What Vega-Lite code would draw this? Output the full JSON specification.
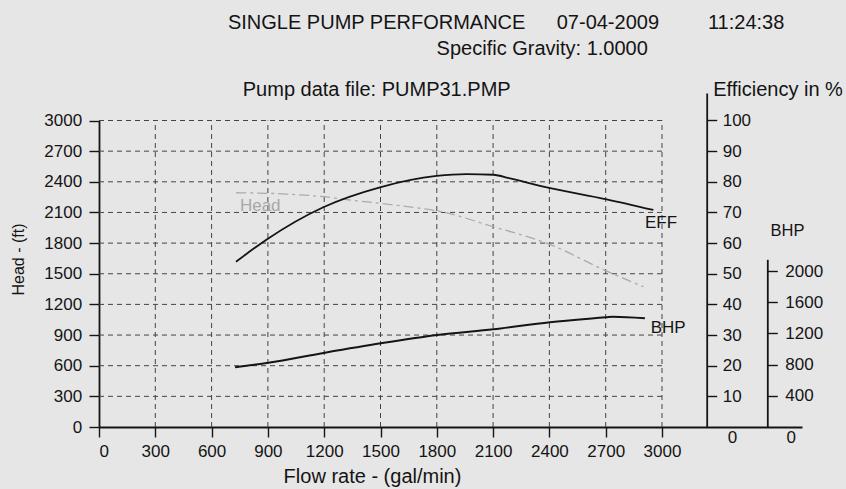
{
  "$schema": "https://vega.github.io/schema/vega-lite/v6.json",
  "width": 703,
  "height": 334,
  "autosize": "none",
  "padding": {"left": 99, "top": 93, "right": 44, "bottom": 62},
  "background": "#e6e6e6",
  "config": {
    "view": {"stroke": null},
    "font": "Liberation Sans",
    "axis": {
      "labelFont": "Liberation Sans",
      "titleFont": "Liberation Sans",
      "labelColor": "#141414",
      "titleColor": "#141414",
      "domainColor": "#141414",
      "tickColor": "#141414",
      "labelFontSize": 17,
      "titleFontSize": 20,
      "titleFontWeight": "normal",
      "domainWidth": 1.8,
      "tickWidth": 1.4,
      "tickSize": 10,
      "grid": false,
      "format": "d"
    }
  },
  "datasets": {
    "gridx": [
      {"flow": 300}, {"flow": 600}, {"flow": 900}, {"flow": 1200}, {"flow": 1500},
      {"flow": 1800}, {"flow": 2100}, {"flow": 2400}, {"flow": 2700}, {"flow": 3000}
    ],
    "gridy": [
      {"head": 300}, {"head": 600}, {"head": 900}, {"head": 1200}, {"head": 1500},
      {"head": 1800}, {"head": 2100}, {"head": 2400}, {"head": 2700}, {"head": 3000}
    ],
    "headcurve": [
      {"flow": 731, "head": 2293},
      {"flow": 1000, "head": 2280},
      {"flow": 1195, "head": 2254},
      {"flow": 1337, "head": 2222},
      {"flow": 1497, "head": 2189},
      {"flow": 1710, "head": 2141},
      {"flow": 1799, "head": 2117},
      {"flow": 2101, "head": 1960},
      {"flow": 2388, "head": 1798},
      {"flow": 2706, "head": 1525},
      {"flow": 2901, "head": 1373}
    ],
    "effcurve": [
      {"flow": 730, "eff": 53.9},
      {"flow": 894, "eff": 61.2},
      {"flow": 1195, "eff": 71.7},
      {"flow": 1497, "eff": 78.2},
      {"flow": 1799, "eff": 81.9},
      {"flow": 1959, "eff": 82.5},
      {"flow": 2101, "eff": 82.3},
      {"flow": 2190, "eff": 81.1},
      {"flow": 2386, "eff": 78.2},
      {"flow": 2705, "eff": 74.3},
      {"flow": 2954, "eff": 70.8}
    ],
    "bhpcurve": [
      {"flow": 725, "bhp": 765},
      {"flow": 902, "bhp": 824},
      {"flow": 1204, "bhp": 953},
      {"flow": 1503, "bhp": 1073},
      {"flow": 1803, "bhp": 1179},
      {"flow": 2101, "bhp": 1253},
      {"flow": 2403, "bhp": 1342},
      {"flow": 2702, "bhp": 1406},
      {"flow": 2740, "bhp": 1414},
      {"flow": 2909, "bhp": 1394}
    ],
    "headings": [
      {"label": "SINGLE PUMP PERFORMANCE", "flow": 687, "head": 3957},
      {"label": "07-04-2009", "flow": 2439, "head": 3957},
      {"label": "11:24:38", "flow": 3245, "head": 3957},
      {"label": "Specific Gravity: 1.0000", "flow": 1799, "head": 3695},
      {"label": "Pump data file: PUMP31.PMP", "flow": 766, "head": 3301}
    ],
    "headlabel": [{"label": "Head", "flow": 751, "head": 2163}],
    "efflabel": [{"label": "EFF", "flow": 2909, "eff": 66.7}, {"label": "0", "flow": 3350, "eff": -3.6}],
    "bhplabel": [{"label": "BHP", "flow": 2940, "bhp": 1273}, {"label": "0", "flow": 3664, "bhp": -141}]
  },
  "layer": [
    {
      "data": {"name": "gridx"},
      "mark": {"type": "rule", "stroke": "#444444", "strokeWidth": 1, "strokeDash": [5, 4]},
      "encoding": {
        "x": {
          "field": "flow", "type": "quantitative",
          "scale": {"domain": [0, 3746], "nice": false, "zero": false},
          "axis": {
            "orient": "bottom",
            "values": [0, 300, 600, 900, 1200, 1500, 1800, 2100, 2400, 2700, 3000],
            "format": "d",
            "title": "Flow rate - (gal/min)",
            "titleX": 273,
            "titleY": 49,
            "titleAlign": "center",
            "titleBaseline": "middle",
            "labelPadding": 6.5
          }
        },
        "y": {
          "datum": 0, "type": "quantitative",
          "scale": {"domain": [0, 3000], "range": [334, 27.5], "nice": false, "zero": false},
          "axis": {
            "orient": "left",
            "values": [0, 300, 600, 900, 1200, 1500, 1800, 2100, 2400, 2700, 3000],
            "format": "d",
            "title": "Head - (ft)",
            "titleFontSize": 16,
            "titleAngle": -90,
            "titleX": -80.5,
            "titleY": 166,
            "titleAlign": "center",
            "titleBaseline": "middle",
            "labelPadding": 7.3
          }
        },
        "y2": {"datum": 3000}
      }
    },
    {
      "data": {"name": "gridy"},
      "mark": {"type": "rule", "stroke": "#444444", "strokeWidth": 1, "strokeDash": [5, 4]},
      "encoding": {
        "y": {
          "field": "head", "type": "quantitative",
          "scale": {"domain": [0, 3000], "range": [334, 27.5], "nice": false, "zero": false},
          "axis": null
        },
        "x": {"datum": 0, "type": "quantitative"},
        "x2": {"datum": 3000}
      }
    },
    {
      "data": {"name": "headcurve"},
      "mark": {"type": "line", "stroke": "#ababab", "strokeWidth": 1.3, "strokeDash": [10, 4, 3, 4], "interpolate": "monotone"},
      "encoding": {
        "x": {"field": "flow", "type": "quantitative"},
        "y": {"field": "head", "type": "quantitative", "scale": {"domain": [0, 3000], "range": [334, 27.5], "nice": false, "zero": false}, "axis": null}
      }
    },
    {
      "data": {"name": "headlabel"},
      "mark": {"type": "text", "align": "left", "baseline": "middle", "fontSize": 17, "color": "#a8a8a8", "font": "Liberation Sans"},
      "encoding": {
        "x": {"field": "flow", "type": "quantitative"},
        "y": {"field": "head", "type": "quantitative", "scale": {"domain": [0, 3000], "range": [334, 27.5], "nice": false, "zero": false}, "axis": null},
        "text": {"field": "label"}
      }
    },
    {
      "data": {"name": "headings"},
      "mark": {"type": "text", "align": "left", "baseline": "middle", "fontSize": 20, "color": "#141414", "font": "Liberation Sans"},
      "encoding": {
        "x": {"field": "flow", "type": "quantitative"},
        "y": {"field": "head", "type": "quantitative", "scale": {"domain": [0, 3000], "range": [334, 27.5], "nice": false, "zero": false}, "axis": null},
        "text": {"field": "label"}
      }
    },
    {
      "data": {"name": "effcurve"},
      "mark": {"type": "line", "stroke": "#141414", "strokeWidth": 1.8, "interpolate": "monotone"},
      "encoding": {
        "x": {"field": "flow", "type": "quantitative"},
        "y": {
          "field": "eff", "type": "quantitative",
          "scale": {"domain": [0, 108.97], "range": [334, 0], "nice": false, "zero": false},
          "axis": {
            "orient": "right",
            "offset": -95.3,
            "values": [10, 20, 30, 40, 50, 60, 70, 80, 90, 100],
            "format": "d",
            "title": "Efficiency in %",
            "titleAngle": 0,
            "titleX": 6,
            "titleY": -4,
            "titleAlign": "left",
            "titleBaseline": "middle",
            "labelPadding": 5.5
          }
        }
      }
    },
    {
      "data": {"name": "efflabel"},
      "mark": {"type": "text", "align": "left", "baseline": "middle", "fontSize": 17, "color": "#141414", "font": "Liberation Sans"},
      "encoding": {
        "x": {"field": "flow", "type": "quantitative"},
        "y": {"field": "eff", "type": "quantitative", "scale": {"domain": [0, 108.97], "range": [334, 0], "nice": false, "zero": false}, "axis": null},
        "text": {"field": "label"}
      }
    },
    {
      "data": {"name": "bhpcurve"},
      "mark": {"type": "line", "stroke": "#141414", "strokeWidth": 2, "interpolate": "monotone"},
      "encoding": {
        "x": {"field": "flow", "type": "quantitative"},
        "y": {
          "field": "bhp", "type": "quantitative",
          "scale": {"domain": [0, 2150], "range": [334, 166.3], "nice": false, "zero": false},
          "axis": {
            "orient": "right",
            "offset": -34.7,
            "values": [400, 800, 1200, 1600, 2000],
            "format": "d",
            "title": "BHP",
            "titleFontSize": 16.5,
            "titleAngle": 0,
            "titleX": 2.7,
            "titleY": 137,
            "titleAlign": "left",
            "titleBaseline": "middle",
            "labelPadding": 7.5
          }
        }
      }
    },
    {
      "data": {"name": "bhplabel"},
      "mark": {"type": "text", "align": "left", "baseline": "middle", "fontSize": 17, "color": "#141414", "font": "Liberation Sans"},
      "encoding": {
        "x": {"field": "flow", "type": "quantitative"},
        "y": {"field": "bhp", "type": "quantitative", "scale": {"domain": [0, 2150], "range": [334, 166.3], "nice": false, "zero": false}, "axis": null},
        "text": {"field": "label"}
      }
    }
  ],
  "resolve": {"scale": {"y": "independent"}}
}
